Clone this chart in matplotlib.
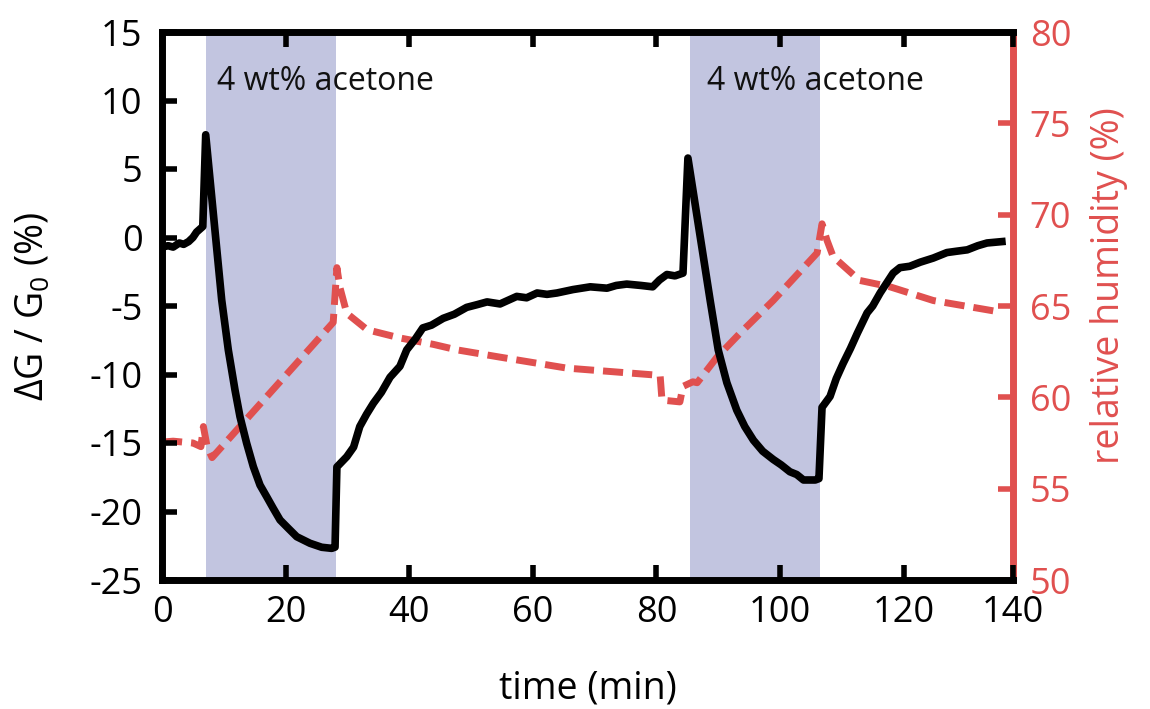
import matplotlib
matplotlib.use("Agg")
import matplotlib.pyplot as plt

plt.rcParams['font.family'] = ['Open Sans', 'DejaVu Sans']
plt.rcParams['mathtext.fontset'] = 'custom'
plt.rcParams['mathtext.rm'] = 'Open Sans'
plt.rcParams['mathtext.it'] = 'Open Sans'
plt.rcParams['axes.unicode_minus'] = False

# conductance change (left axis)
g_time = [0, 1.0, 1.8, 2.8, 3.5, 4.3, 5.0, 5.6, 6.1, 6.6, 7.07,
          9.66, 10.73, 11.81, 12.62, 13.7, 14.78, 15.86, 16.94, 18.0, 19.1, 20.44, 21.8,
          23.95, 25.84, 27.46, 28.0, 28.3, 29.9, 31.0, 32.0, 33.1, 34.2, 35.5, 36.9, 38.5,
          39.6, 41.0, 42.2, 43.6, 45.5, 47.3, 49.3, 51.0, 52.6, 54.7, 57.4, 59.0, 60.7,
          62.3, 63.9, 66.5, 69.3, 72.0, 73.5, 75.2, 77.5, 79.4, 80.5, 81.7, 83.0, 84.3,
          85.1, 88.7, 90.0, 91.4, 93.0, 94.3, 95.7, 97.2, 98.9, 100.2, 101.6, 102.7, 103.8,
          105.7, 106.3, 106.8, 108.1, 109.1, 110.2, 111.4, 112.5, 114.1, 115.0, 116.2,
          118.3, 119.4, 121.0, 122.7, 124.8, 127.0, 128.6, 130.3, 132.0, 133.5, 135.9]
g_values = [-0.7, -0.6, -0.7, -0.4, -0.5, -0.3, 0.0, 0.4, 0.6, 0.8, 7.5,
            -4.56, -8.21, -11.13, -13.08, -15.02, -16.73, -18.07, -18.92, -19.77, -20.62, -21.23, -21.84,
            -22.32, -22.61, -22.69, -22.6, -16.75, -16.0, -15.3, -13.8, -12.9, -12.1, -11.3, -10.2, -9.4,
            -8.2, -7.4, -6.6, -6.4, -5.9, -5.6, -5.1, -4.9, -4.7, -4.85, -4.3, -4.4, -4.05,
            -4.15, -4.05, -3.8, -3.6, -3.7, -3.5, -3.4, -3.5, -3.6, -3.1, -2.7, -2.8, -2.6,
            5.8, -4.6, -8.2, -10.6, -12.6, -13.8, -14.8, -15.6, -16.2, -16.6, -17.1, -17.3, -17.7,
            -17.7, -17.6, -12.4, -11.6, -10.3, -9.2, -8.1, -7.0, -5.5, -5.0, -4.05,
            -2.6, -2.2, -2.1, -1.8, -1.5, -1.1, -1.0, -0.9, -0.6, -0.4, -0.3]

# relative humidity (right axis)
rh_time = [0, 1.8, 5.0, 6.3, 6.7, 7.3, 8.1, 12.6, 27.7, 28.3, 28.8, 29.9, 33.2, 38.5, 43.9,
           47.7, 54.7, 65.5, 80.6, 80.9, 83.8, 84.3, 85.9, 86.6, 89.8, 93.5, 98.9, 106.0,
           106.8, 107.6, 108.6, 112.9, 117.8, 124.8, 135.1]
rh_values = [57.55, 57.6, 57.5, 57.3, 58.4, 57.3, 56.7, 58.4, 64.1, 67.1, 66.0, 64.6, 63.7, 63.25, 62.9,
             62.6, 62.2, 61.6, 61.2, 59.85, 59.75, 60.6, 60.85, 60.8, 62.2, 63.5, 65.3, 67.9,
             69.5, 68.6, 67.7, 66.4, 66.05, 65.3, 64.7]

exposure_windows = [(7.07, 28.1), (85.4, 106.4)]
exposure_label = "4 wt% acetone"
label_starts = [8.9, 88.2]
label_level = 10.77

x_ticks = [0, 20, 40, 60, 80, 100, 120, 137.7]
x_ticklabels = ["0", "20", "40", "60", "80", "100", "120", "140"]

red = '#e0504f'
band = '#c2c5e0'

fig = plt.figure(figsize=(11.5, 7.09), dpi=100)
ax = fig.add_axes([162/1150, 1-580/709, (1013-162)/1150, (580-32)/709])
ax2 = ax.twinx()

for (a, b) in exposure_windows:
    ax2.axvspan(a, b, color=band, lw=0, zorder=0)
ax2.plot(rh_time, rh_values, color=red, lw=5.0, dashes=(2.9, 1.3), dash_capstyle='butt', zorder=2)

ax.plot(g_time, g_values, color='black', lw=5.5, solid_joinstyle='round', zorder=3)
for s in label_starts:
    ax.text(s, label_level, exposure_label, fontsize=23, va='baseline', ha='left', color='#111111')
ax.set_zorder(ax2.get_zorder() + 1)
ax.patch.set_visible(False)

ax.set_xlim(0, 137.7)
ax.set_ylim(-25, 15)
ax2.set_ylim(50, 80)
ax.set_xticks(x_ticks)
ax.set_xticklabels(x_ticklabels)
ax.set_yticks(range(-25, 16, 5))
ax2.set_yticks(range(50, 81, 5))

ax.tick_params(axis='both', direction='in', length=11, width=4, labelsize=26,
               top=True, colors='black')
ax.tick_params(axis='x', pad=11)
ax.tick_params(axis='y', pad=14)
ax2.tick_params(axis='y', direction='in', length=11, width=4, labelsize=26, pad=12,
                colors=red)
for sp in ['left', 'bottom', 'top']:
    ax.spines[sp].set_linewidth(5)
ax.spines['right'].set_visible(False)
for sp in ['left', 'bottom', 'top']:
    ax2.spines[sp].set_visible(False)
ax2.spines['right'].set_linewidth(5)
ax2.spines['right'].set_color(red)

ax.set_xlabel("time (min)", fontsize=27)
ax.xaxis.set_label_coords(0.5, -0.164)
ax.set_ylabel("ΔG / G$_0$ (%)", fontsize=27)
ax.yaxis.set_label_coords(-0.128, 0.5)
ax2.set_ylabel("relative humidity (%)", fontsize=27, color=red)
ax2.yaxis.set_label_coords(1.09, 0.538)

fig.savefig("out.png", dpi=100)
